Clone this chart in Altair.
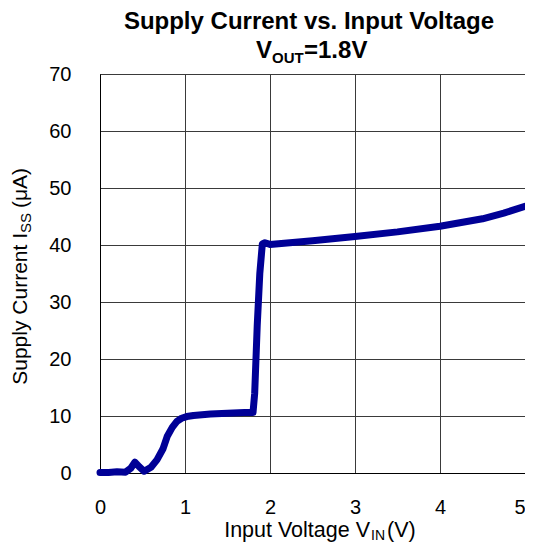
import altair as alt
import pandas as pd

# Curve data
vin = [0.0, 0.1, 0.2, 0.3, 0.36, 0.41, 0.46, 0.52, 0.6, 0.67, 0.74, 0.79, 0.85, 0.905,
       0.96, 1.02, 1.1, 1.3, 1.5, 1.7, 1.80, 1.82, 1.85, 1.88, 1.91, 1.94, 2.0,
       2.5, 3.0, 3.5, 4.0, 4.5, 4.75, 5.0]
iss = [0.1, 0.1, 0.2, 0.15, 0.8, 1.9, 1.1, 0.3, 1.0, 2.3, 4.2, 6.4, 8.0, 9.05,
       9.6, 9.9, 10.1, 10.35, 10.5, 10.6, 10.6, 14.0, 26.0, 35.0, 40.2, 40.4, 40.1,
       40.75, 41.5, 42.3, 43.3, 44.6, 45.6, 46.8]

x_ticks = [0, 1, 2, 3, 4, 5]
y_ticks = [0, 10, 20, 30, 40, 50, 60, 70]

title_line1 = "Supply Current vs. Input Voltage"
title_line2 = ["V", "OUT", "=1.8V"]
x_title = ["Input Voltage V", "IN", "(V)"]
y_title = ["Supply Current I", "SS", "(μA)"]

FONT = "Liberation Sans"
W, H = 425, 399
PAD_L, PAD_T = 92, 66

df = pd.DataFrame({"vin": vin, "iss": iss})

axis_style = dict(title=None, grid=True, ticks=False, format="d", labelFontSize=20,
                  labelFont=FONT, labelColor="black", labelFlush=False,
                  gridColor="#3a3a3a", gridWidth=1, gridOpacity=1,
                  domainColor="black", domainWidth=1)

line = alt.Chart(df).mark_line(
    color="#000096", strokeWidth=7, strokeCap="round", strokeJoin="round"
).encode(
    x=alt.X("vin:Q", scale=alt.Scale(domain=[0, 5], nice=False),
            axis=alt.Axis(values=x_ticks, labelPadding=24,
                          labelAlign=alt.ExprRef(expr="datum.value == 5 ? 'right' : 'center'"),
                          **axis_style)),
    y=alt.Y("iss:Q", scale=alt.Scale(domain=[0, 70], nice=False),
            axis=alt.Axis(values=y_ticks, labelPadding=29, **axis_style)),
)

one = pd.DataFrame({"k": [0]})


def txt(s, x, y, size, bold=False, align="left", angle=0, baseline="alphabetic"):
    kw = dict(font=FONT, fontSize=size, align=align, baseline=baseline, color="black",
              fontWeight="bold" if bold else "normal")
    if angle:
        kw["angle"] = angle
    return alt.Chart(one).mark_text(**kw).encode(
        x=alt.value(x), y=alt.value(y), text=alt.value(s)
    )


ox, oy = 8 + PAD_L, 8 + PAD_T  # plot origin in page coords

texts = [
    txt(title_line1, 309 - ox, 29 - oy, 24, bold=True, align="center"),
    txt(title_line2[0], 272 - ox, 58 - oy, 24, bold=True, align="right"),
    txt(title_line2[1], 272 - ox, 63 - oy, 15, bold=True),
    txt(title_line2[2], 304 - ox, 58 - oy, 24, bold=True),
    txt(x_title[0], 370 - ox, 536.5 - oy, 21.5, align="right"),
    txt(x_title[1], 371 - ox, 540 - oy, 14),
    txt(x_title[2], 387 - ox, 536.5 - oy, 21.5),
    txt(y_title[0], 27 - ox, 233 - oy, 21, align="right", angle=270),
    txt(y_title[1], 31 - ox, 233 - oy, 15, angle=270),
    txt(y_title[2], 27 - ox, 208 - oy, 21, angle=270),
]

chart = alt.layer(line, *texts).properties(
    width=W, height=H,
    autosize=alt.AutoSizeParams(type="none"),
    padding={"left": PAD_L, "top": PAD_T, "right": 0, "bottom": 534 - PAD_T - H},
    background="white",
).configure_view(
    stroke="black", strokeWidth=1
)

chart.save("out.html", embed_options={"renderer": "svg", "actions": False})
